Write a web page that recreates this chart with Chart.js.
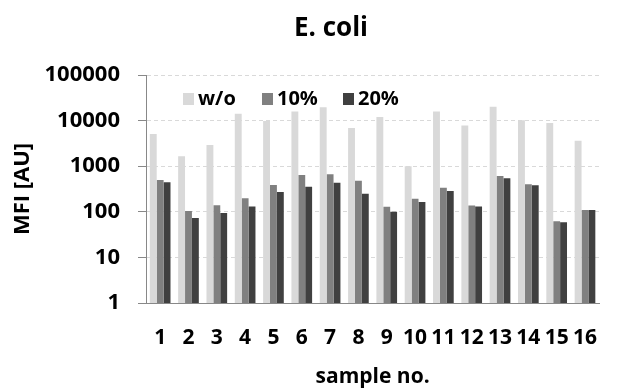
<!DOCTYPE html>
<html>
<head>
<meta charset="utf-8">
<title>E. coli</title>
<script src="https://cdn.jsdelivr.net/npm/chart.js@4/dist/chart.umd.min.js"></script>
<style>
    html, body { margin: 0; padding: 0; background: #fff; }
    #wrap { width: 619px; height: 392px; position: relative; }
</style>
</head>
<body>
<div id="wrap"><canvas id="chart"></canvas></div>
<script>
const samples = ['1', '2', '3', '4', '5', '6', '7', '8', '9', '10', '11', '12', '13', '14', '15', '16'];
const seriesNames = ['w/o', '10%', '20%'];
const withoutValues = [5100, 1650, 2900, 14200, 9800, 15800, 19700, 6900, 12000, 1000, 15800, 7800, 20000, 10200, 8900, 3600];
const tenPercentValues = [500, 104, 140, 197, 386, 640, 665, 480, 129, 193, 337, 138, 610, 400, 62, 109];
const twentyPercentValues = [445, 73, 94, 131, 271, 355, 434, 249, 100, 163, 285, 131, 542, 380, 59, 109];
const yTicks = [1, 10, 100, 1000, 10000, 100000];

const FONT = '"Open Sans", "Liberation Sans", sans-serif';
const colors = ['#d9d9d9', '#808080', '#404040'];

// title and in-plot legend, drawn by hand so they can sit where they need to
const annotations = {
    id: 'annotations',
    afterDraw(chart) {
        const ctx = chart.ctx;
        ctx.save();
        ctx.fillStyle = '#000';
        ctx.font = 'bold 26px ' + FONT;
        ctx.textAlign = 'center';
        ctx.textBaseline = 'alphabetic';
        ctx.fillText('E. coli', 331, 36);

        const boxX = [183, 262, 343];
        ctx.font = 'bold 20px ' + FONT;
        ctx.textAlign = 'left';
        chart.data.datasets.forEach((ds, i) => {
            ctx.fillStyle = ds.backgroundColor;
            ctx.fillRect(boxX[i], 93, 11, 12);
            ctx.fillStyle = '#000';
            ctx.fillText(ds.label, boxX[i] + 15, 105);
        });
        ctx.restore();
    }
};

new Chart(document.getElementById('chart'), {
    type: 'bar',
    data: {
        labels: samples,
        datasets: [withoutValues, tenPercentValues, twentyPercentValues].map((values, i) => ({
            label: seriesNames[i],
            data: values,
            backgroundColor: colors[i],
            borderWidth: 0,
            barPercentage: 1,
            categoryPercentage: 0.73
        }))
    },
    options: {
        responsive: true,
        maintainAspectRatio: false,
        animation: false,
        layout: { padding: { top: 75, right: 0, left: 0, bottom: 0 } },
        plugins: {
            legend: { display: false },
            title: { display: false },
            tooltip: { enabled: false }
        },
        scales: {
            x: {
                afterFit(scale) { scale.height = 89; },
                grid: { display: true, drawOnChartArea: false, drawTicks: false },
                border: { display: true, color: '#888', width: 1 },
                ticks: {
                    autoSkip: false,
                    maxRotation: 0,
                    padding: 22,
                    color: '#000',
                    font: { family: FONT, size: 21, weight: 'bold' }
                },
                title: {
                    display: true,
                    text: 'sample no.',
                    color: '#000',
                    padding: { top: 0, bottom: 2 },
                    font: { family: FONT, size: 21, weight: 'bold' }
                }
            },
            y: {
                type: 'logarithmic',
                min: 1,
                max: 100000,
                afterFit(scale) { scale.width = 146; },
                afterBuildTicks(scale) {
                    scale.ticks = yTicks.map((v) => ({ value: v }));
                },
                grid: {
                    color: '#d9d9d9',
                    tickColor: '#888',
                    tickLength: 8,
                    tickBorderDash: []
                },
                border: { display: true, color: '#888', width: 1, dash: [4, 3] },
                ticks: {
                    padding: 18,
                    color: '#000',
                    font: { family: FONT, size: 22, weight: 'bold' },
                    callback: (value) => String(value)
                },
                title: {
                    display: true,
                    text: 'MFI [AU]',
                    color: '#000',
                    padding: { top: 10, bottom: 0 },
                    font: { family: FONT, size: 22, weight: 'bold' }
                }
            }
        }
    },
    plugins: [annotations]
});
</script>
</body>
</html>
